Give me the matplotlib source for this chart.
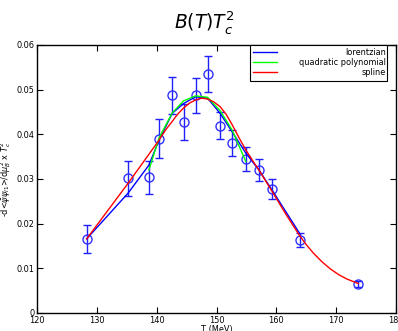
import matplotlib
matplotlib.use("Agg")
import matplotlib.pyplot as plt
from matplotlib.transforms import Affine2D

# data points
T = [128.3, 135.2, 138.7, 140.4, 142.6, 144.5, 146.5, 148.5, 150.6, 152.6,
     154.9, 157.1, 159.3, 163.9, 173.7]
B = [0.0166, 0.0302, 0.0304, 0.0390, 0.0487, 0.0428, 0.0487, 0.0535, 0.0419,
     0.0380, 0.0344, 0.0320, 0.0277, 0.0163, 0.0065]
B_err = [0.0032, 0.0039, 0.0037, 0.0044, 0.0041, 0.0041, 0.0040, 0.0040, 0.0030,
         0.0029, 0.0027, 0.0024, 0.0022, 0.0015, 0.0006]

# lorentzian fit curve
lor_T = [128.3, 135.2, 138.7, 140.4, 142.6, 144.5, 146.5, 148.5, 150.6, 152.6,
         154.9, 157.1, 159.3, 163.9]
lor_B = [0.0166, 0.0268, 0.0331, 0.0387, 0.0447, 0.0469, 0.0484, 0.0481, 0.0447,
         0.0406, 0.0358, 0.0320, 0.0275, 0.0178]

# quadratic polynomial fit curve
quad_T = [138.7, 140.4, 142.6, 144.5, 146.5, 148.5, 150.6, 152.6, 154.9]
quad_B = [0.0320, 0.0392, 0.0448, 0.0475, 0.0486, 0.0483, 0.0453, 0.0410, 0.0339]

# spline curve
spl_T = [128.3, 135.2, 140.4, 141.5, 142.6, 143.5, 144.5, 145.5, 146.5, 147.5,
         148.5, 149.5, 150.6, 151.6, 152.6, 153.7, 154.9, 156.0, 157.1, 159.3,
         161.6, 163.9, 165.0, 166.2, 167.6, 169.0, 170.4, 171.8, 173.7]
spl_B = [0.0166, 0.0290, 0.0387, 0.0410, 0.0429, 0.0445, 0.0459, 0.0470, 0.0477,
         0.0481, 0.0479, 0.0473, 0.0462, 0.0445, 0.0422, 0.0394, 0.0365, 0.0342,
         0.0320, 0.0272, 0.0221, 0.0173, 0.0153, 0.0134, 0.0115, 0.0099, 0.0086,
         0.0076, 0.0066]

x_ticks = [120, 130, 140, 150, 160, 170, 180]
y_ticks = [0, 0.01, 0.02, 0.03, 0.04, 0.05, 0.06]
y_tick_labels = ["0", "0.01", "0.02", "0.03", "0.04", "0.05", "0.06"]

FS = 5.9

fig = plt.figure(figsize=(3.98, 3.31), dpi=100)
ax = fig.add_axes([37 / 398, 18 / 331, 359 / 398, 268 / 331])

ax.errorbar(T, B, yerr=B_err, fmt='o', mfc='none', mec='#3030ff', ecolor='#2020ff',
            ms=6.5, mew=1.0, elinewidth=1.0, capsize=3, capthick=1.0, zorder=2)
ax.plot(lor_T, lor_B, color='#0000ff', lw=1.0, label='lorentzian', zorder=3)
ax.plot(quad_T, quad_B, color='#00ff00', lw=1.0, label='quadratic polynomial', zorder=3)
ax.plot(spl_T, spl_B, color='#ff0000', lw=1.0, label='spline', zorder=3)

ax.set_xlim(120, 180)
ax.set_ylim(0, 0.06)
ax.set_xticks(x_ticks)
ax.set_yticks(y_ticks)
ax.set_yticklabels(y_tick_labels)
ax.tick_params(direction='in', top=True, right=True, length=4, width=0.8,
               labelsize=FS, pad=2)
for s in ax.spines.values():
    s.set_linewidth(1.0)

ax.set_xlabel('T (MeV)', fontsize=FS, labelpad=0)
ax.set_ylabel(r'-d<$\bar{\psi}\psi_{l1}$>/d$\mu_B^2$ x $T_c^2$', fontsize=FS, labelpad=2)

fig.text(204 / 398, 1 - 28 / 331, r'$B(T)T_c^2$', fontsize=13.5, ha='center', va='baseline')

leg = ax.legend(loc='upper right', bbox_to_anchor=(0.975, 1.0), borderaxespad=0,
                fontsize=FS, fancybox=False, framealpha=1, edgecolor='black',
                handlelength=2.9, handletextpad=2.4, labelspacing=0.12, borderpad=0.4)
leg.get_frame().set_linewidth(0.8)

fig.canvas.draw()
r = fig.canvas.get_renderer()
texts = leg.get_texts()
widths = [t.get_window_extent(r).width for t in texts]
wmax = max(widths)
extra = 0.4 * FS * 100 / 72 - 1
for t, w in zip(texts, widths):
    t.set_transform(t.get_transform() + Affine2D().translate(wmax - w + extra, 0))

fig.savefig('out.png', dpi=100)
